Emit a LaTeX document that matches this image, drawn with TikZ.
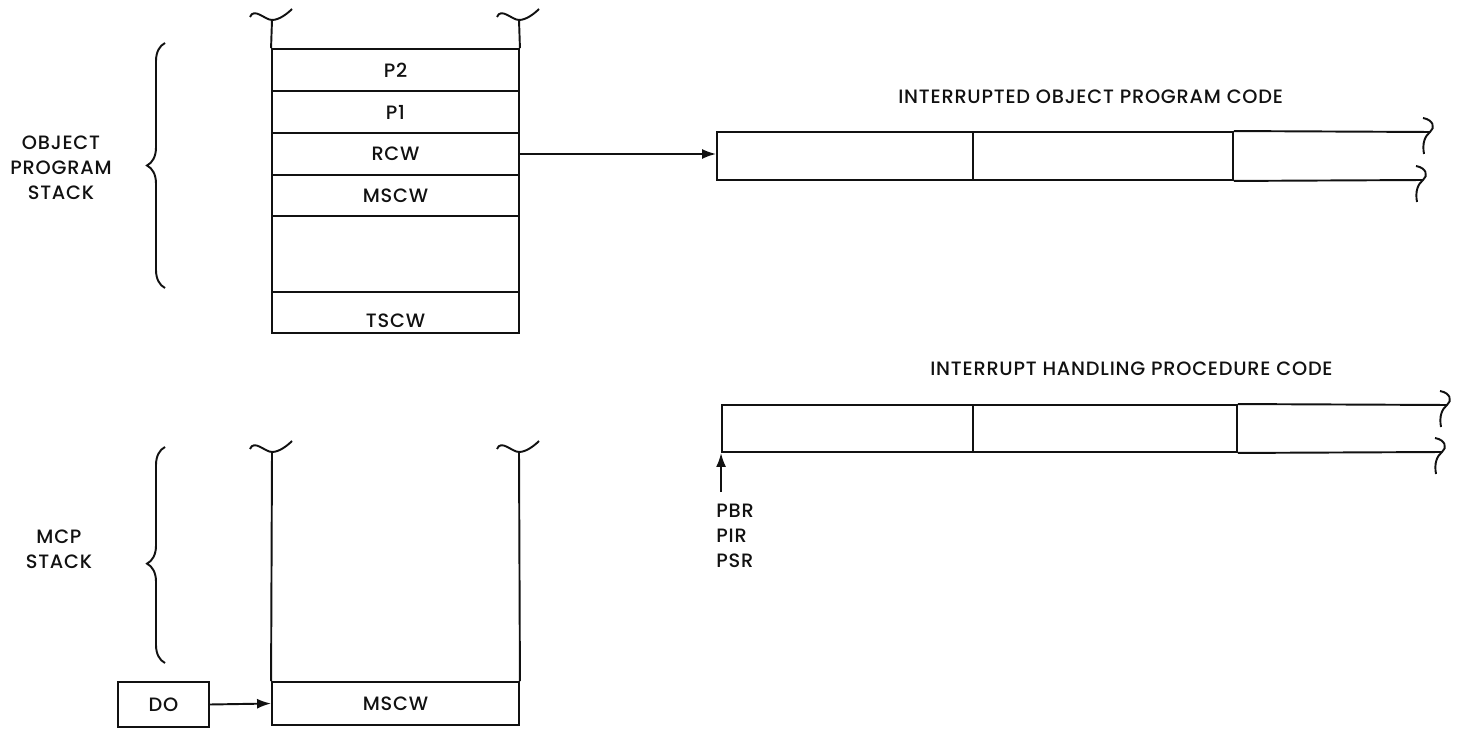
\documentclass[tikz,border=0pt]{standalone}
\usepackage{fontspec}
\setmainfont{Poppins}[UprightFont={* Medium},LetterSpace=4]
\usepackage{tikz}
\usetikzlibrary{arrows.meta,positioning,decorations.pathreplacing}
\definecolor{ink}{HTML}{111111}
\newcommand{\lbl}{\fontsize{11}{14.2}\selectfont}
% wavy top of an open stack, trough on the wall
\newcommand{\topwave}[2]{%
  \draw[rail] (#1-22,#2-3) .. controls (#1-18,#2-13) and (#1-7,#2) .. (#1,#2)
    .. controls (#1+7,#2) and (#1+15,#2-6) .. (#1+20,#2-11);}
% break mark at the open end of a code strip
\newcommand{\brk}[2]{%
  \draw[rail] (#1-7,#2-14) .. controls (#1+4,#2-12) and (#1+5,#2-4) .. (#1,#2)
    .. controls (#1-5,#2+4) and (#1-8,#2+11) .. (#1-6,#2+22);}
\tikzset{
  cell/.style={draw=ink,line width=1.1pt,minimum width=4.94cm,inner sep=0pt,
               font=\lbl,text=ink},
  codebox/.style={draw=ink,line width=1.1pt,inner sep=0pt},
  rail/.style={draw=ink,line width=1.1pt},
  ptr/.style={-{Latex[length=2.8mm,width=2mm]},line width=1.1pt,draw=ink},
  stackbrace/.style={decorate,decoration={brace,amplitude=0.36cm},
                     line width=1.1pt,draw=ink},
  caption/.style={font=\lbl,align=center,inner sep=0pt,text=ink}
}
\begin{document}
\begin{tikzpicture}[x=0.02cm,y=-0.02cm]
    \path[use as bounding box] (0,0) rectangle (1464,729);
    % object program stack
    \foreach \n/\t/\yy in {p2/P2/70, p1/P1/112, rcw/RCW/154}{
      \node[cell,minimum height=0.84cm] (\n) at (395.5,\yy) {\t};
    }
    \node[cell,minimum height=0.82cm] (mscwa) at (395.5,195.5) {MSCW};
    \node[cell,minimum height=1.52cm] (gap) at (395.5,254) {};
    \node[cell,minimum height=0.82cm,text height=3.2ex] (tscw) at (395.5,312.5) {TSCW};
    \topwave{272}{20}
    \topwave{519}{20}
    \draw[rail] (272,20) -- (p2.north west);
    \draw[rail] (519,20) -- (p2.north east);
    \draw[stackbrace] (165,288) -- (165,43);
    \node[caption] (objlbl) at (61,168) {OBJECT\\PROGRAM\\STACK};
    % mcp stack
    \node[cell,minimum height=0.86cm] (mscwb) at (395.5,703.5) {MSCW};
    \topwave{272}{452}
    \topwave{519}{452}
    \draw[rail] (272,452) -- (mscwb.north west);
    \draw[rail] (519,452) -- (mscwb.north east);
    \draw[stackbrace,decoration={aspect=0.46}] (165,663) -- (165,447);
    \node[caption] (mcplbl) at (59,549) {MCP\\STACK};
    \node[cell,minimum width=1.82cm,minimum height=0.9cm] (do) at (163.5,704.5) {DO};
    \draw[ptr] (do.east) -- (mscwb.west);
    % interrupted object program code
    \node[caption,anchor=west] (titlea) at (898,97) {INTERRUPTED OBJECT PROGRAM CODE};
    \node[codebox,minimum width=5.12cm,minimum height=0.96cm] (sega) at (845,156) {};
    \node[codebox,minimum width=5.2cm,minimum height=0.96cm] (segb) at (1103,156) {};
    \draw[rail] (segb.north east) -- (1430,132);
    \draw[rail] (segb.south east) -- (1423,180);
    \brk{1430}{132}
    \brk{1423}{180}
    \draw[ptr] (rcw.east) -- (rcw.east -| sega.west);
    % interrupt handling procedure code
    \node[caption,anchor=west] (titleb) at (930,369) {INTERRUPT HANDLING PROCEDURE CODE};
    \node[codebox,minimum width=5.02cm,minimum height=0.94cm] (hsega) at (847.5,428.5) {};
    \node[codebox,minimum width=5.28cm,minimum height=0.94cm] (hsegb) at (1105,428.5) {};
    \draw[rail] (hsegb.north east) -- (1447,405);
    \draw[rail] (hsegb.south east) -- (1442,452);
    \brk{1447}{405}
    \brk{1442}{452}
    \node[caption,align=left,anchor=north west] (regs) at (716,504) {PBR\\PIR\\PSR};
    \coordinate (pin) at (hsega.south west |- 0,492);
    \draw[ptr] (pin) -- (hsega.south west);
  \end{tikzpicture}
\end{document}
